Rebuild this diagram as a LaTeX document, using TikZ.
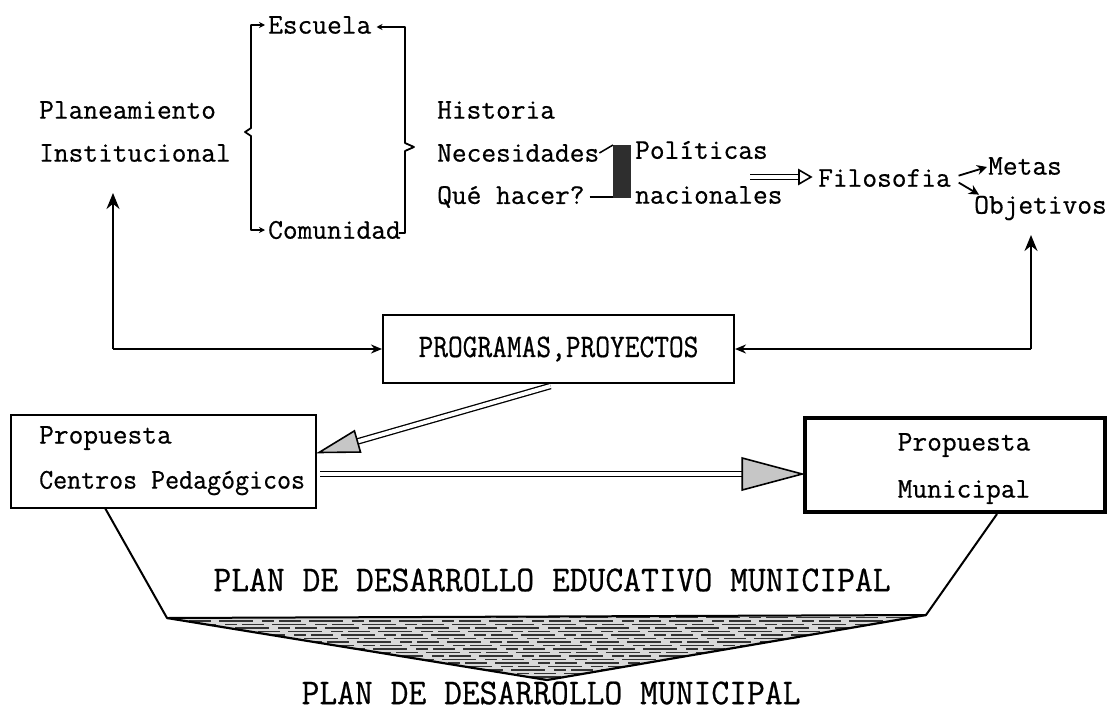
\documentclass[tikz,border=0pt]{standalone}
\usepackage{fontspec}
\newfontfamily\tw{Latin Modern Mono}[FakeBold=0.6]
\usetikzlibrary{arrows.meta,calc}
\begin{document}
\begin{tikzpicture}[x=1pt,y=-1pt,
  txt/.style={font=\tw\fontsize{28.6}{28}\selectfont, inner sep=0pt, anchor=west},
  ctxt/.style={font=\tw\fontsize{28.6}{28}\selectfont, inner sep=0pt},
  bigtxt/.style={font=\tw\fontsize{34.6}{34}\selectfont, inner sep=0pt},
  ln/.style={line width=2pt},
  arr/.style={line width=2pt, -{Stealth[length=16pt,width=13pt]}},
  smallarr/.style={line width=1.8pt, -{Stealth[length=10pt,width=10pt]}},
  brk/.style={line width=1.8pt, line join=round},
  boxst/.style={draw, line width=2pt, inner sep=0pt},
  dbl/.style={double, double distance=4pt, line width=1.3pt},
  headst/.style={draw, line width=1.6pt, fill=gray!45, line join=miter}
]
\fill[white] (0,0) rectangle (1111,712);
\useasboundingbox (0,0) rectangle (1111,712);

% --- top texts
\node[txt] (plan1) at (39,110) {Planeamiento};
\node[txt] (plan2) at (39,153) {Institucional};
\node[txt] (esc) at (268,25) {Escuela};
\node[txt] (com) at (268,230) {Comunidad};
\node[txt] (hist) at (437,110) {Historia};
\node[txt] (nec) at (437,153) {Necesidades};
\node[txt] (que) at (437,197) {Qué hacer?};
\node[txt] (pol) at (635,150) {Políticas};
\node[txt] (nac) at (635,195) {nacionales};
\node[txt] (filo) at (818,178) {Filosofia};
\node[txt] (metas) at (988,166) {Metas};
\node[txt] (obj) at (974,208) {Objetivos};

% --- brackets
\draw[brk, {Stealth[length=6pt,width=6pt]}-{Stealth[length=6pt,width=6pt]}]
  ($(esc.west)+(-3,0)$) -- (251,25) -- (251,128) -- (245,132) -- (251,136)
  -- (251,230) -- ($(com.west)+(-3,0)$);
\draw[brk, {Stealth[length=6pt,width=6pt]}-]
  ($(esc.east)+(5,2)$) -- (405,27) -- (405,143) -- (414,147) -- (405,151)
  -- (405,233) -- ($(com.east)+(-2,3)$);

% --- shaded bar
\coordinate (barTL) at (613,145);
\coordinate (barBR) at (631,198);
\fill[black!82] (barTL) rectangle (barBR);
\draw[line width=1.5pt] (nec.east) -- (barTL);
\draw[line width=1.5pt, shorten <=5pt] (que.east) -- (barTL |- que.east);

% --- double arrow to Filosofia
\coordinate (da1) at (750,177);
\coordinate (ft) at ($(filo.west)+(-7,-1)$);
\coordinate (fb) at ($(ft)+(-12,0)$);
\draw[dbl] (da1) -- (fb);
\draw[headst, fill=white] ($(fb)+(0,-7)$) -- (ft) -- ($(fb)+(0,7)$) -- cycle;

% --- Filosofia to Metas / Objetivos
\draw[smallarr, shorten <=8pt] (filo.east) -- ($(metas.west)+(-1,1)$);
\draw[smallarr, shorten <=9pt] (filo.east) -- ($(obj.north west)+(5,-1)$);

% --- PROGRAMAS box
\node[boxst, minimum width=351pt, minimum height=68pt] (prog) at (558.5,349)
  {\tw\fontsize{28.6}{28}\selectfont\scalebox{1}[1.15]{PROGRAMAS,PROYECTOS}};

\coordinate (lc) at (113,349);
\coordinate (ltip) at (113,193);
\coordinate (rc) at (1031,349);
\coordinate (rtip) at (1031,235);
\draw[arr] (lc) -- (ltip);
\draw[line width=2pt, -{Stealth[length=11pt,width=9pt]}] (lc) -- (prog.west);
\draw[arr] (rc) -- (rtip);
\draw[line width=2pt, -{Stealth[length=11pt,width=9pt]}] (rc) -- (prog.east);

% --- Propuesta Centros Pedagógicos
\node[boxst, minimum width=305pt, minimum height=93pt] (cent) at (163.5,461.5) {};
\node[txt] (cp1) at (39,438) {Propuesta};
\node[txt] (cp2) at (39,483) {\scalebox{0.95}[1]{Centros Pedagógicos}};

% --- Propuesta Municipal
\node[boxst, line width=3.6pt, minimum width=300pt, minimum height=94pt] (mun) at (955,465) {};
\node[ctxt] (mp1) at (964,445) {Propuesta};
\node[ctxt] (mp2) at (964,492) {Municipal};

% --- diagonal double arrow PROGRAMAS -> Centros
\coordinate (dgs) at ($(prog.south)+(-8,2)$);
\coordinate (dgt) at ($(cent.east)+(2,-9)$);
\coordinate (dgb) at ($(dgt)!40pt!(dgs)$);
\draw[dbl] (dgs) -- (dgb);
\draw[headst] ($(dgb)!11pt!90:(dgt)$) -- (dgt) -- ($(dgb)!11pt!-90:(dgt)$) -- cycle;

% --- horizontal double arrow Centros -> Municipal
\coordinate (hs) at ($(cent.east)+(3,12.5)$);
\coordinate (ht) at ($(mun.west)+(-1,9)$);
\coordinate (hb) at ($(ht)+(-60,0)$);
\draw[dbl] (hs) -- (hb);
\draw[headst] ($(hb)+(0,-16)$) -- (ht) -- ($(hb)+(0,16)$) -- cycle;

% --- trapezoid and hatched triangle
\coordinate (t1) at (105,508);
\coordinate (t2) at (167,618);
\coordinate (t3) at (926,615);
\coordinate (t4) at (997,514);
\coordinate (tap) at (547,680);
\begin{scope}
  \clip (t2) -- (tap) -- (t3) -- cycle;
  \fill[gray!30] (t2) -- (tap) -- (t3) -- cycle;
  \foreach \yy [count=\k] in {614,617.5,...,684} {
    \pgfmathsetmacro{\ph}{mod(\k*37,90)}
    \draw[line width=1.4pt, black!80, dash pattern=on 34pt off 9pt on 12pt off 5pt on 22pt off 8pt, dash phase=\ph pt]
      (150,\yy) -- (940,\yy);
  }
\end{scope}
\draw[ln, line join=round] (t1) -- (t2) -- (t3) -- (t4);
\draw[line width=2.2pt, line join=round] (t2) -- (tap) -- (t3);

\node[bigtxt] (pdem) at (552,580) {\scalebox{1}[1.05]{PLAN DE DESARROLLO EDUCATIVO MUNICIPAL}};
\node[bigtxt] (pdm) at (551,693) {\scalebox{1}[1.05]{PLAN DE DESARROLLO MUNICIPAL}};
\end{tikzpicture}
\end{document}
